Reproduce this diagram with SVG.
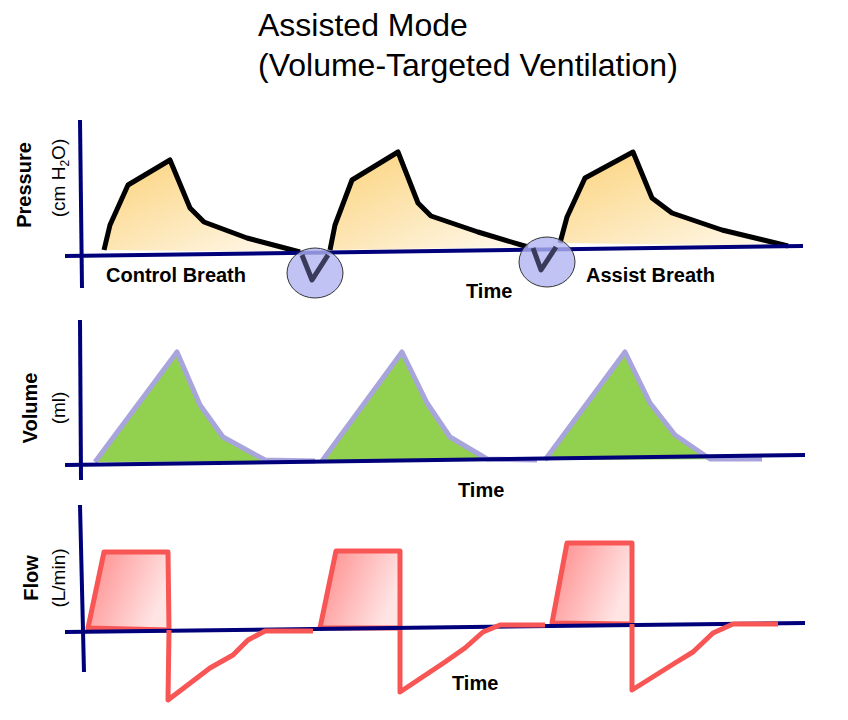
<svg xmlns="http://www.w3.org/2000/svg" width="848" height="720" viewBox="0 0 848 720">
<style>
.ax{stroke:#00007a;stroke-width:4;fill:none}
.pr{stroke:#000;stroke-width:5;stroke-linejoin:round;fill:url(#gy)}
.vo{stroke:#a8a4dc;stroke-width:5;stroke-linejoin:round;fill:#92d050}
.fl{stroke:#f85555;stroke-width:5;stroke-linejoin:round;fill:url(#gr)}
.fn{stroke:#f85555;stroke-width:5;stroke-linejoin:round;fill:none}
.b{font-family:"Liberation Sans",Arial,sans-serif;font-weight:bold;font-size:20px}
.n{font-family:"Liberation Sans",Arial,sans-serif;font-size:19px}
.t{font-family:"Liberation Sans",Arial,sans-serif;font-size:32px}
.c{fill:#b0b4f0;fill-opacity:0.8;stroke:#333;stroke-width:1}
.v{stroke:#3a3a5a;stroke-width:5;fill:none;stroke-linejoin:round}
</style>
<defs>
<linearGradient id="gy" x1="0" y1="0" x2="1" y2="1"><stop offset="0" stop-color="#fbd27a"/><stop offset="1" stop-color="#fffaf0"/></linearGradient>
<linearGradient id="gr" x1="0" y1="0" x2="1" y2="0.4"><stop offset="0" stop-color="#f88"/><stop offset="1" stop-color="#ffe4e4"/></linearGradient>
</defs>
<g id="title"><text class="t" x="258" y="36">Assisted Mode</text><text class="t" x="258" y="76">(Volume-Targeted Ventilation)</text></g>
<g id="pressure">
<path class="pr" d="M104,250 L110,225 L128,185 L170,160 L190,208 L204,222 L247,238 L300,252"/>
<path class="pr" d="M330,250 L335,225 L352,180 L398,152 L418,203 L431,216 L478,232 L528,247"/>
<path class="pr" d="M560,243 L567,217 L585,178 L633,152 L652,198 L672,213 L722,230 L788,246"/>
<line class="ax" x1="80" y1="120" x2="82" y2="288"/><line class="ax" x1="65" y1="256" x2="803" y2="246"/>
<ellipse class="c" cx="315" cy="273" rx="28" ry="25"/><path class="v" d="M302,255 L312,280 L328,255"/>
<ellipse class="c" cx="547" cy="262" rx="28" ry="25"/><path class="v" d="M533,248 L541,270 L556,247"/>
<text class="b" transform="translate(31,185) rotate(-90)" text-anchor="middle">Pressure</text>
<text class="n" transform="translate(65,178) rotate(-90)" text-anchor="middle">(cm H<tspan font-size="12" dy="4">2</tspan><tspan dy="-4">O)</tspan></text>
<text class="b" x="106" y="282">Control Breath</text>
<text class="b" x="586" y="282">Assist Breath</text>
<text class="b" x="466" y="298">Time</text>
</g>
<g id="volume">
<path class="vo" d="M95,462 L177,352 L200,405 L223,437 L265,460 L315,461"/>
<path class="vo" d="M322,461 L402,352 L427,403 L450,437 L487,459 L537,460"/>
<path class="vo" d="M545,460 L625,352 L650,403 L675,435 L710,459 L762,459"/>
<line class="ax" x1="80" y1="320" x2="81" y2="480"/><line class="ax" x1="65" y1="465" x2="805" y2="455"/>
<text class="b" transform="translate(37,408) rotate(-90)" text-anchor="middle">Volume</text>
<text class="n" transform="translate(65,408) rotate(-90)" text-anchor="middle">(ml)</text>
<text class="b" x="458" y="497">Time</text>
</g>
<g id="flow">
<path class="fl" d="M88,628 L104,552 L168,552 L169,630 Z"/>
<path class="fl" d="M320,628 L336,551 L400,551 L400,628 Z"/>
<path class="fl" d="M552,623 L567,543 L632,543 L632,624 Z"/>
<line class="ax" x1="80" y1="505" x2="84" y2="672"/><line class="ax" x1="65" y1="632" x2="805" y2="623"/>
<path class="fn" d="M169,630 L168,700 L210,668 L233,655 L248,640 L265,631 L313,631"/>
<path class="fn" d="M400,630 L400,692 L445,662 L465,648 L483,632 L500,625 L545,625"/>
<path class="fn" d="M632,624 L632,690 L675,663 L693,652 L713,633 L733,624 L778,624"/>
<text class="b" transform="translate(38,578) rotate(-90)" text-anchor="middle">Flow</text>
<text class="n" transform="translate(65,578) rotate(-90)" text-anchor="middle">(L/min)</text>
<text class="b" x="452" y="690">Time</text>
</g>
</svg>
